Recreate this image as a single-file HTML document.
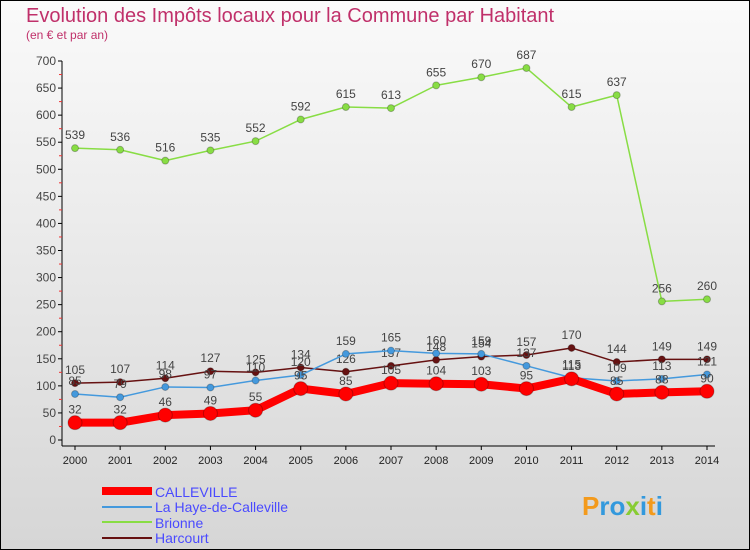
<!DOCTYPE html>
<html><head><meta charset="utf-8"><style>
body{margin:0;width:750px;height:550px;overflow:hidden;font-family:"Liberation Sans",sans-serif}
#c{position:absolute;left:0;top:0;width:748px;height:548px;border:1px solid #000;background:linear-gradient(#fafafa,#d6d6d6)}
</style></head><body>
<div id="c">
<svg id="s" width="750" height="550" style="position:absolute;left:-1px;top:-1px" font-family="Liberation Sans, sans-serif">
<text x="26" y="22" font-size="20" fill="#c0306a">Evolution des Impôts locaux pour la Commune par Habitant</text>
<text x="26" y="39" font-size="12" fill="#c0306a">(en € et par an)</text>
<g id="axes"></g><g id="series"></g>
<g font-size="14">
<line x1="102" y1="491" x2="152" y2="491" stroke="#f00" stroke-width="8"/>
<text x="155" y="497" fill="#4a4aff">CALLEVILLE</text>
<line x1="102" y1="507" x2="152" y2="507" stroke="#4499dd" stroke-width="2"/>
<text x="155" y="512" fill="#4a4aff">La Haye-de-Calleville</text>
<line x1="102" y1="522" x2="152" y2="522" stroke="#88dd44" stroke-width="2"/>
<text x="155" y="528" fill="#4a4aff">Brionne</text>
<line x1="102" y1="538" x2="152" y2="538" stroke="#661111" stroke-width="2"/>
<text x="155" y="543" fill="#4a4aff">Harcourt</text>
</g>
<text x="582" y="515" font-size="26" font-weight="bold" fill="#3399dd"><tspan fill="#f39a1c">P</tspan>ro<tspan fill="#88cc33">x</tspan>i<tspan fill="#f39a1c">t</tspan>i</text>
</svg>
</div>
<script>
const years=[2000,2001,2002,2003,2004,2005,2006,2007,2008,2009,2010,2011,2012,2013,2014];
const calleville=[32,32,46,49,55,95,85,105,104,103,95,113,85,88,90];
const laHaye=[85,79,98,97,110,120,159,165,160,159,137,115,109,113,121];
const brionne=[539,536,516,535,552,592,615,613,655,670,687,615,637,256,260];
const harcourt=[105,107,114,127,125,134,126,137,148,154,157,170,144,149,149];
const yTicks=[0,50,100,150,200,250,300,350,400,450,500,550,600,650,700];
const NS="http://www.w3.org/2000/svg";
const X=i=>75+i*(707-75)/(years.length-1);
const Y=v=>440-v*(379/700);
function mk(t,a,p){const e=document.createElementNS(NS,t);for(const k in a)e.setAttribute(k,a[k]);p.appendChild(e);return e;}
const ax=document.getElementById('axes');
let yl=mk('line',{x1:62,y1:61,x2:62,y2:446,stroke:'#000'},ax);


let xl=mk('line',{x1:62,y1:446,x2:715,y2:446,stroke:'#000'},ax);


yTicks.forEach(v=>{mk('line',{x1:58,y1:Y(v),x2:62,y2:Y(v),stroke:'#000'},ax);
 if(v<700)mk('line',{x1:59,y1:Y(v+25),x2:62,y2:Y(v+25),stroke:'#e33'},ax);
 const t=mk('text',{x:56,y:Y(v)+4,'text-anchor':'end','font-size':12,fill:'#444'},ax);t.textContent=v;
 
 });
years.forEach((yr,i)=>{mk('line',{x1:X(i),y1:446,x2:X(i),y2:450,stroke:'#000'},ax);
 const t=mk('text',{x:X(i),y:464,'text-anchor':'middle','font-size':11,fill:'#222'},ax);t.textContent=yr;
 
 });
const sg=document.getElementById('series');
function draw(data,color,w,r,name){const g=mk('g',{},sg);
 
 
 mk('polyline',{points:data.map((v,i)=>X(i)+','+Y(v)).join(' '),fill:'none',stroke:color,'stroke-width':w,'stroke-linejoin':'round'},g);
 data.forEach((v,i)=>{const c=mk('circle',{cx:X(i),cy:Y(v),r:r,fill:color,stroke:'rgba(0,0,0,0.25)'},g);
  
  
  const t=mk('text',{x:X(i),y:Y(v)-9,'text-anchor':'middle','font-size':12,fill:'#444'},g);t.textContent=v;});}
draw(brionne,'#88dd44',1.5,3.5,'series-brionne');
draw(harcourt,'#661111',1.5,3.5,'series-harcourt');
draw(laHaye,'#4499dd',1.5,3.5,'series-la-haye');
draw(calleville,'#ff0000',8,7,'series-calleville');
</script>
</body></html>
